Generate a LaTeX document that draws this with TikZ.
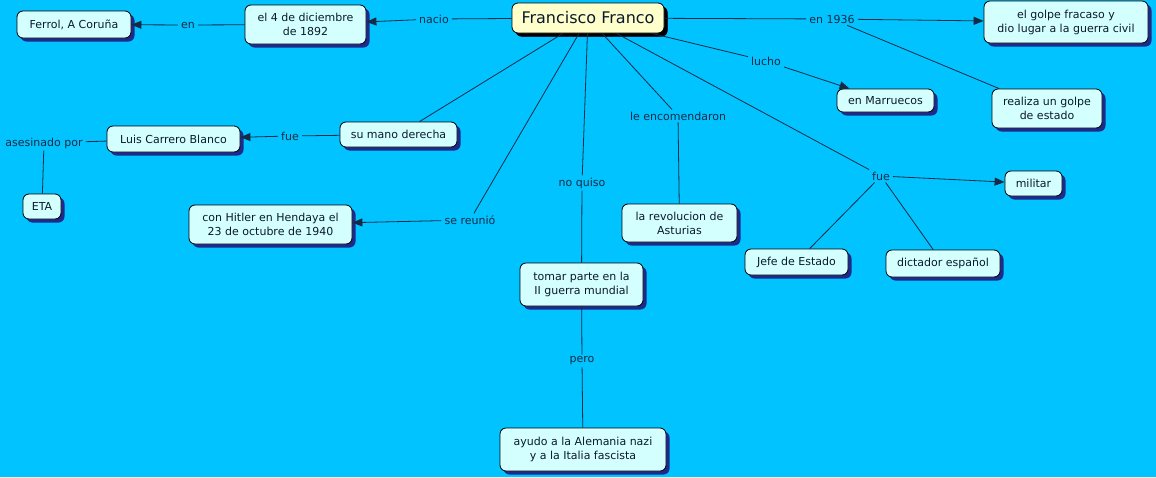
\documentclass[tikz,border=0pt]{standalone}
\usepackage{fontspec}
\setmainfont{DejaVu Sans}
\usetikzlibrary{arrows.meta,shadows}
\definecolor{bg}{HTML}{00C3FF}
\definecolor{cfill}{HTML}{D4FFFF}
\definecolor{mfill}{HTML}{FFFFCC}
\definecolor{shad}{HTML}{1E2A8C}
\definecolor{lnk}{HTML}{142B45}
\definecolor{txt}{HTML}{0A1A2A}
\tikzset{
  concept/.style={draw=black, fill=cfill, rounded corners=6pt, align=center,
    inner sep=0pt, text=txt, font=\fontsize{11}{14}\selectfont, line width=0.8pt,
    drop shadow={shadow xshift=3.5pt, shadow yshift=-3.5pt, fill=shad, opacity=1}},
  mainc/.style={concept, fill=mfill, font=\fontsize{16}{18}\selectfont,
    drop shadow={shadow xshift=3.5pt, shadow yshift=-3.5pt, fill=black, opacity=1}},
  sz/.style 2 args={minimum width=#1pt, minimum height=#2pt},
  lab/.style={text=lnk, font=\fontsize{11}{13}\selectfont, inner xsep=3pt, inner ysep=2pt},
  conn/.style={draw=lnk, line width=0.8pt},
  arr/.style={conn, -{Triangle[length=10pt,width=8pt]}}
}
\begin{document}
\begin{tikzpicture}[x=1pt,y=-1pt]
\fill[bg] (0,0) rectangle (1156,477);
\useasboundingbox (0,0) rectangle (1156,477);
% concepts
\node[mainc, sz={152}{30}] (franco) at (588,18) {Francisco Franco};
\node[concept, sz={121}{39}] (el4) at (305.5,24.5) {el 4 de diciembre\\de 1892};
\node[concept, sz={114}{27}] (ferrol) at (74,24.5) {Ferrol, A Coruña};
\node[concept, sz={164}{42}] (golpe) at (1066,22) {el golpe fracaso y\\dio lugar a la guerra civil};
\node[concept, sz={110}{39}] (realiza) at (1047,108.5) {realiza un golpe\\de estado};
\node[concept, sz={97}{23}] (marruecos) at (885.5,100.5) {en Marruecos};
\node[concept, sz={117}{25}] (mano) at (398.5,134.5) {su mano derecha};
\node[concept, sz={133}{26}] (luis) at (173.5,139) {Luis Carrero Blanco};
\node[concept, sz={38}{25}] (eta) at (42,206.5) {ETA};
\node[concept, sz={163}{39}] (hitler) at (270.5,224.5) {con Hitler en Hendaya el\\23 de octubre de 1940};
\node[concept, sz={123}{43}] (tomar) at (581.5,284.5) {tomar parte en la\\II guerra mundial};
\node[concept, sz={166}{43}] (ayudo) at (583,449.5) {ayudo a la Alemania nazi\\y a la Italia fascista};
\node[concept, sz={115}{38}] (revol) at (679.5,223) {la revolucion de\\Asturias};
\node[concept, sz={57}{25}] (militar) at (1033.5,183.5) {militar};
\node[concept, sz={103}{26}] (jefe) at (796.5,262) {Jefe de Estado};
\node[concept, sz={114}{27}] (dictador) at (943,263.5) {dictador español};
% linking phrases
\node[lab] (nacio) at (434,19) {nacio};
\node[lab] (en) at (188,25) {en};
\node[lab] (en1936) at (832,19) {en 1936};
\node[lab] (lucho) at (766,61) {lucho};
\node[lab] (fue1) at (290,136) {fue};
\node[lab] (asesinado) at (44,143) {asesinado por};
\node[lab] (reunio) at (470,220) {se reunió};
\node[lab] (noquiso) at (582,183) {no quiso};
\node[lab] (pero) at (582,361) {pero};
\node[lab] (encom) at (678,116) {le encomendaron};
\node[lab] (fue2) at (881,176) {fue};
% connectors
\draw[conn] (franco) -- (nacio);
\draw[arr] (nacio) -- (el4);
\draw[conn] (el4) -- (en);
\draw[arr] (en) -- (ferrol);
\draw[conn] (franco) -- (en1936);
\draw[arr] (en1936) -- (golpe);
\draw[conn] (en1936) -- (realiza);
\draw[conn] (franco) -- (lucho);
\draw[arr] (lucho) -- (marruecos);
\draw[conn] (franco) -- (mano);
\draw[conn] (mano) -- (fue1);
\draw[arr] (fue1) -- (luis);
\draw[conn] (luis) -- (asesinado);
\draw[conn] (asesinado) -- (eta);
\draw[conn] (franco) -- (reunio);
\draw[arr] (reunio) -- (hitler);
\draw[conn] (franco) -- (noquiso);
\draw[conn] (noquiso) -- (tomar);
\draw[conn] (tomar) -- (pero);
\draw[conn] (pero) -- (ayudo);
\draw[conn] (franco) -- (encom);
\draw[conn] (encom) -- (revol);
\draw[conn] (franco) -- (fue2);
\draw[arr] (fue2) -- (militar);
\draw[conn] (fue2) -- (jefe);
\draw[conn] (fue2) -- (dictador);
\end{tikzpicture}
\end{document}
